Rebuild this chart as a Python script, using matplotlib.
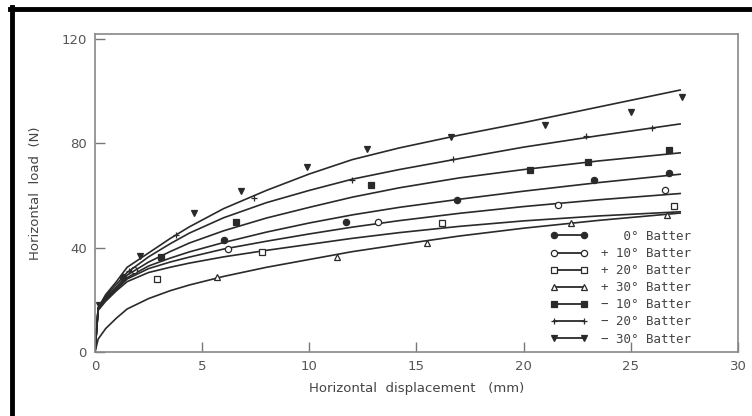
import matplotlib.pyplot as plt
from matplotlib.lines import Line2D

# curve points (displacement in mm, load in N)
x_curve = [0, 0.15, 0.5, 1, 1.5, 2.5, 3.5, 4.4, 6, 8, 10, 12, 14.2, 17, 20, 23.5, 27.3]
y_m30 = [0, 17, 22, 27, 32.5, 38, 43.5, 48, 55, 62, 68.3, 73.8, 78.3, 83.2, 88, 94, 100.5]
y_m20 = [0, 17, 21.5, 26, 30.5, 36.5, 41.5, 45.6, 51.5, 57.3, 62, 66.3, 70, 74.2, 78.6, 83, 87.5]
y_m10 = [0, 17, 21, 25, 29.5, 34.5, 38.5, 41.8, 46.5, 51.4, 55.5, 59.4, 63, 66.8, 70, 73.3, 76.4]
y_0 = [0, 16.5, 20.5, 24.5, 28.5, 33, 36, 38.4, 42, 46, 49.5, 52.6, 55.5, 58.6, 61.7, 65, 68.2]
y_p10 = [0, 16.5, 20, 24, 28, 32, 34.5, 36.4, 39.5, 42.5, 45.3, 47.9, 50.4, 53.2, 55.8, 58.4, 60.8]
y_p20 = [0, 16, 19.5, 23.5, 27, 30.5, 32.5, 34.1, 36.5, 39, 41.3, 43.6, 45.8, 48.2, 50.3, 52.2, 53.8]
y_p30 = [0, 5, 9, 13, 16.5, 20.5, 23.5, 25.7, 29, 32.5, 35.5, 38.5, 41.2, 44.5, 47.5, 50.5, 53.3]

# measured points
pts_m30 = ([0.2, 2.1, 4.6, 6.8, 9.9, 12.7, 16.6, 21.0, 25.0, 27.4],
           [18, 37, 53.3, 61.8, 71, 78, 82.5, 87, 92, 98])
pts_m20 = ([1.6, 3.8, 7.4, 12.0, 16.7, 22.9, 26.0],
           [31, 45, 59, 66, 74, 83, 86])
pts_m10 = ([3.1, 6.6, 12.9, 20.3, 23.0, 26.8],
           [36.5, 50, 64, 70, 73, 77.5])
pts_0 = ([1.3, 6.0, 11.7, 16.9, 23.3, 26.8],
         [28.8, 43, 50, 58.3, 66, 68.7])
pts_p10 = ([1.8, 6.2, 13.2, 21.6, 26.6],
           [31.5, 39.5, 50, 56.4, 62])
pts_p20 = ([2.9, 7.8, 16.2, 27.0],
           [28, 38.4, 49.5, 56])
pts_p30 = ([5.7, 11.3, 15.5, 22.2, 26.7],
           [28.8, 36.5, 41.8, 49.5, 52.5])

labels = ['   0° Batter', '+ 10° Batter', '+ 20° Batter', '+ 30° Batter',
          '− 10° Batter', '− 20° Batter', '− 30° Batter']

ink = '#2a2a2a'
series = [
    (y_0, pts_0, dict(marker='o', mfc=ink, ms=4.5)),
    (y_p10, pts_p10, dict(marker='o', mfc='white', ms=4.5)),
    (y_p20, pts_p20, dict(marker='s', mfc='white', ms=4.5)),
    (y_p30, pts_p30, dict(marker='^', mfc='white', ms=4.5)),
    (y_m10, pts_m10, dict(marker='s', mfc=ink, ms=4.5)),
    (y_m20, pts_m20, dict(marker='+', mfc=ink, ms=4)),
    (y_m30, pts_m30, dict(marker='v', mfc=ink, ms=5)),
]

fig = plt.figure(figsize=(7.52, 4.16), dpi=100)
ax = fig.add_axes([0.1263, 0.1538, 0.8551, 0.7645])

handles = []
for (yc, (px, py), mk) in series:
    ax.plot(x_curve, yc, color=ink, lw=1.2)
    ax.plot(px, py, ls='none', marker=mk['marker'], mfc=mk['mfc'],
            mec=ink, ms=mk['ms'], mew=0.9)
    handles.append(Line2D([0], [0], color=ink, lw=1.3, marker=mk['marker'],
                          mfc=mk['mfc'], mec=ink, ms=mk['ms'], mew=0.9))

ax.set_xlim(0, 30)
ax.set_ylim(0, 122)
ax.set_xticks([0, 5, 10, 15, 20, 25, 30])
ax.set_yticks([0, 40, 80, 120])
ax.tick_params(direction='in', length=7, width=1, colors='#777777',
               labelcolor='#555555', labelsize=9.5, pad=6)
for s in ax.spines.values():
    s.set_color('#888888')
    s.set_linewidth(1.2)

ax.set_xlabel('Horizontal  displacement   (mm)', fontsize=9.5, color='#444444', labelpad=6)
ax.set_ylabel('Horizontal  load  (N)', fontsize=9.5, color='#444444', labelpad=14)

leg = ax.legend(handles, labels, loc='lower right', bbox_to_anchor=(0.945, -0.015),
                frameon=False, numpoints=2, handlelength=3.0, handletextpad=1.1,
                labelspacing=0.33, prop={'family': 'DejaVu Sans Mono', 'size': 9})
for t in leg.get_texts():
    t.set_color('#444444')

# thick black scan border on left and top
fig.add_artist(Line2D([12 / 752, 12 / 752], [0, 1 - 7 / 416], color='black', lw=3.5,
                      transform=fig.transFigure))
fig.add_artist(Line2D([10 / 752, 1], [1 - 9 / 416, 1 - 9 / 416], color='black', lw=3.5,
                      transform=fig.transFigure))

fig.savefig('out.png', dpi=100)
